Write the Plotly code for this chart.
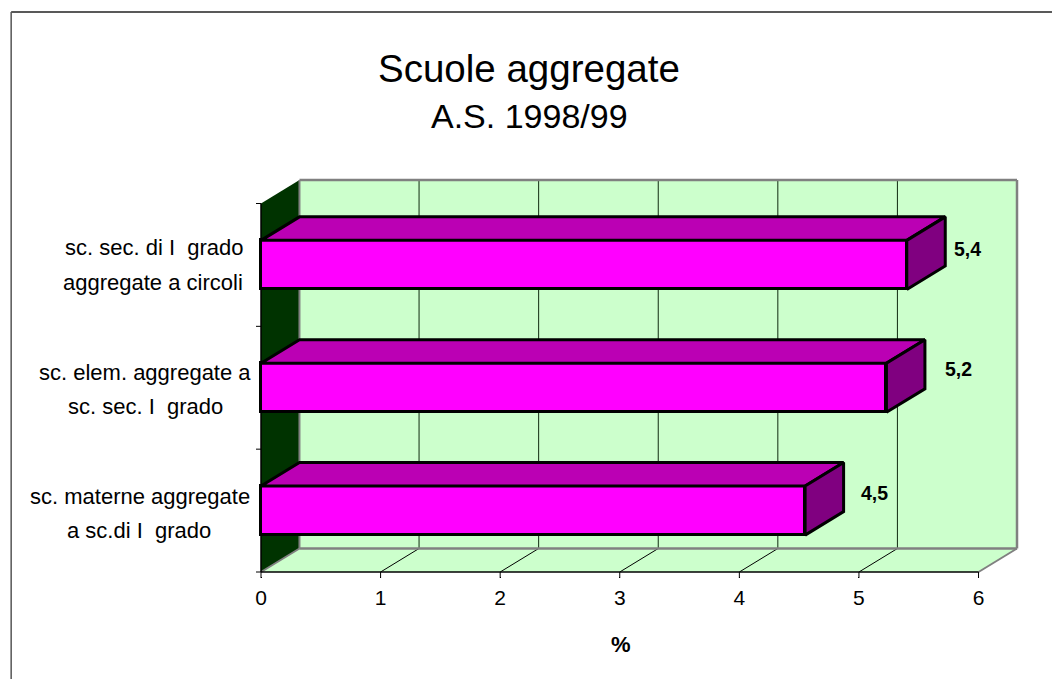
import plotly.graph_objects as go

# ---- data ----
category_line1 = ["sc. materne aggregate", "sc. elem. aggregate a", "sc. sec. di I  grado"]
category_line2 = ["a sc.di I  grado", "sc. sec. I  grado", "aggregate a circoli"]
values = [4.55, 5.23, 5.4]
value_labels = ["4,5", "5,2", "5,4"]
x_ticks = [0, 1, 2, 3, 4, 5, 6]
title_main = "Scuole aggregate"
title_sub = "A.S. 1998/99"
x_title = "%"

# ---- style / geometry ----
W, H = 1052, 679
X0, X6, XR = 260.5, 978.5, 1017.0
YB, Y3, YT = 572.0, 203.5, 180.0
PAD = 4.0
ux = (X6 - X0) / 6
uy = (YB - Y3) / 3
DX = (XR - X6) / ux
DY = (Y3 - YT) / uy
XMAX, YMAX, NCAT = 6, 3, 3
BAR_W = 0.4
FONT = "Liberation Sans"
WALL, LEFTWALL, GREY = "#CCFFCC", "#003300", "#808080"
FRONT, TOP, SIDE = "#FF00FF", "#BB00B4", "#800080"

PL, PR, PT, PB = X0 - PAD, XR + PAD, YT - PAD, YB + PAD

def px(x):
    return (x - PL) / (PR - PL)

def py(y):
    return (PB - y) / (PB - PT)

def poly(pts, fill, line=None, lw=0):
    path = "M " + " L ".join(f"{a},{b}" for a, b in pts) + " Z"
    return dict(type="path", path=path, xref="x", yref="y", fillcolor=fill,
                line=dict(color=line or fill, width=lw), layer="below")

def seg(x1, y1, x2, y2, color="black", w=1, layer="below"):
    return dict(type="line", x0=x1, y0=y1, x1=x2, y1=y2, xref="x", yref="y",
                line=dict(color=color, width=w), layer=layer)

shapes = [
    poly([(DX, DY), (XMAX + DX, DY), (XMAX + DX, YMAX + DY), (DX, YMAX + DY)], WALL),
    poly([(0, 0), (XMAX, 0), (XMAX + DX, DY), (DX, DY)], WALL),
    poly([(0, 0), (DX, DY), (DX, YMAX + DY), (0, YMAX)], LEFTWALL),
]
for t in x_ticks[1:-1]:
    shapes.append(seg(t + DX, DY, t + DX, YMAX + DY, "#102a10", 1))
    shapes.append(seg(t, 0, t + DX, DY, "black", 1))
shapes += [
    seg(DX, DY, DX, YMAX + DY, GREY, 2),
    seg(DX, YMAX + DY, XMAX + DX, YMAX + DY, GREY, 2.5),
    seg(XMAX + DX, DY, XMAX + DX, YMAX + DY, GREY, 2.5),
    seg(DX, DY, XMAX + DX, DY, GREY, 2.5),
    seg(0, 0, DX, DY, GREY, 2),
    seg(XMAX, 0, XMAX + DX, DY, GREY, 2),
    seg(0, 0, 0, YMAX, "black", 1.5),
    seg(0, 0, XMAX, 0, "black", 1.5),
]
# page frame: top and left rules
frame = "#222222"
shapes.append(dict(type="line", xref="paper", yref="paper", x0=px(10.5), x1=px(W), y0=py(12), y1=py(12),
                   line=dict(color=frame, width=1.5)))
shapes.append(dict(type="line", xref="paper", yref="paper", x0=px(10.5), x1=px(10.5), y0=py(12), y1=py(H),
                   line=dict(color="#555555", width=1.5)))

fig = go.Figure()
ypos = [i + 0.5 for i in range(NCAT)]

fig.add_trace(go.Bar(x=values, y=ypos, orientation="h", width=BAR_W,
                     marker=dict(color=FRONT, line=dict(color="black", width=3)),
                     hoverinfo="skip", showlegend=False))

for v, c in zip(values, ypos):
    lo, hi = c - BAR_W / 2, c + BAR_W / 2
    fig.add_trace(go.Scatter(
        x=[0, v, v + DX, DX, 0], y=[hi, hi, hi + DY, hi + DY, hi],
        mode="lines", fill="toself", fillcolor=TOP, line=dict(color="black", width=3),
        hoverinfo="skip", showlegend=False))
    fig.add_trace(go.Scatter(
        x=[v, v + DX, v + DX, v, v], y=[lo, lo + DY, hi + DY, hi, lo],
        mode="lines", fill="toself", fillcolor=SIDE, line=dict(color="black", width=3),
        hoverinfo="skip", showlegend=False))

annotations = []
line_cx = [(139, 138), (144, 145), (154, 152)]
line_cy = [(496, 530), (372, 406), (247, 282)]
for i in range(NCAT):
    for txt, cx, cy in zip((category_line1[i], category_line2[i]), line_cx[i], line_cy[i]):
        annotations.append(dict(text=txt, x=px(cx), y=py(cy), xref="paper", yref="paper", showarrow=False,
                                xanchor="center", yanchor="middle",
                                font=dict(family=FONT, size=22, color="black")))

label_dx = [61, 72, 69]
label_dx = [69, 72, 61]
label_cy = [493, 369, 249]
for v, t, d, cy in zip(values, value_labels, label_dx, label_cy):
    annotations.append(dict(text=f"<b>{t}</b>", x=v + d / ux, y=(YB - cy) / uy, showarrow=False,
                            xanchor="center", yanchor="middle", xref="x", yref="y",
                            font=dict(family=FONT, size=19.5, color="black")))

for txt, cy, size in ((title_main, 68, 38.5), (title_sub, 116, 34)):
    annotations.append(dict(text=txt, xref="paper", yref="paper", x=px(529), y=py(cy), showarrow=False,
                            xanchor="center", yanchor="middle", font=dict(family=FONT, size=size, color="black")))
annotations.append(dict(text=f"<b>{x_title}</b>", xref="paper", yref="paper", x=px(621), y=py(644),
                        showarrow=False, xanchor="center", yanchor="middle",
                        font=dict(family=FONT, size=22, color="black")))

fig.update_layout(
    width=W, height=H, autosize=False, showlegend=False,
    paper_bgcolor="white", plot_bgcolor="white",
    margin=dict(l=PL, r=W - PR, t=PT, b=H - PB, pad=0),
    shapes=shapes, annotations=annotations, bargap=0,
    xaxis=dict(range=[-PAD / ux, XMAX + DX + PAD / ux], tickvals=x_ticks, ticks="outside", ticklen=1, tickwidth=1,
               tickcolor="black", showgrid=False, zeroline=False, showline=False,
               ticklabelstandoff=2,
               tickfont=dict(family=FONT, size=21, color="black")),
    yaxis=dict(range=[-PAD / uy, YMAX + DY + PAD / uy], tickvals=[0, 1, 2, 3], ticktext=["", "", "", ""], ticks="",
               showgrid=False, zeroline=False, showline=False),
)

# axis tick marks start on the axis lines, inside the padded plot area
for t in x_ticks:
    fig.add_shape(type="line", xref="x", yref="paper", x0=t, x1=t, y0=py(YB), y1=py(YB + 6),
                  line=dict(color="black", width=1))
for t in [0, 1, 2, 3]:
    fig.add_shape(type="line", xref="paper", yref="y", x0=px(X0 - 5), x1=px(X0), y0=t, y1=t,
                  line=dict(color="black", width=1))

fig.write_html("out.html", config={"displayModeBar": False},
               post_script="document.body.style.margin='0';document.documentElement.style.overflow='hidden';")
